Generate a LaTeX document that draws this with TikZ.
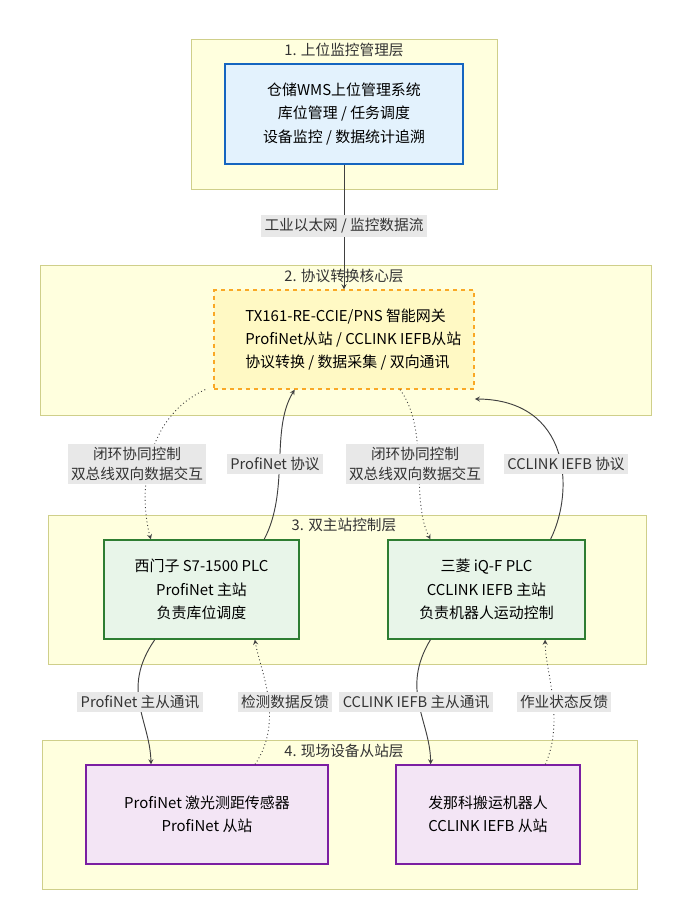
\documentclass[tikz,border=0pt]{standalone}
\usepackage{fontspec}
\setmainfont{Noto Sans CJK SC}
\usepackage{tikz}

\definecolor{layerfill}{HTML}{FFFFDE}
\definecolor{layerdraw}{HTML}{CFCF8A}
\definecolor{lblfill}{HTML}{E8E8E8}
\definecolor{wmsdraw}{HTML}{1565C0}
\definecolor{wmsfill}{HTML}{E3F2FD}
\definecolor{gwdraw}{HTML}{F9A825}
\definecolor{gwfill}{HTML}{FFF9C4}
\definecolor{plcdraw}{HTML}{2E7D32}
\definecolor{plcfill}{HTML}{E8F5E9}
\definecolor{devdraw}{HTML}{7B1FA2}
\definecolor{devfill}{HTML}{F3E5F5}

\tikzset{
	layer/.style={draw=layerdraw, fill=layerfill, line width=0.6pt},
	layertitle/.style={font=\fontsize{11}{12}\selectfont, text=black!80},
	box/.style={line width=1.2pt, align=center, font=\fontsize{11.2}{17.5}\selectfont, inner sep=0pt},
	lbl/.style={fill=lblfill, align=center, font=\fontsize{11}{15}\selectfont, inner sep=2.5pt, text=black!80},
	flow/.style={->, >=stealth, line width=0.7pt, black!75},
	back/.style={->, >=stealth, line width=0.7pt, black!75, dotted}
}

\begin{document}
\begin{tikzpicture}[x=0.75pt, y=-0.75pt]
	
	\useasboundingbox[fill=white] (0,0) rectangle (691,907);
	
	% layers
	\draw[layer] (191,39) rectangle (497,189);
	\draw[layer] (40,265) rectangle (651,415);
	\draw[layer] (48,515) rectangle (646,664);
	\draw[layer] (42,740) rectangle (637,889);
	\node[layertitle] (t1) at (344,50) {1. 上位监控管理层};
	\node[layertitle] (t2) at (344,276) {2. 协议转换核心层};
	\node[layertitle] (t3) at (344,525) {3. 双主站控制层};
	\node[layertitle] (t4) at (344,751) {4. 现场设备从站层};
	
	% nodes
	\node[box, draw=wmsdraw, fill=wmsfill, minimum width=178.5pt, minimum height=75pt] (wms) at (344,114)
		{仓储WMS上位管理系统\\库位管理 / 任务调度\\设备监控 / 数据统计追溯};
	\node[box, draw=gwdraw, fill=gwfill, dashed, minimum width=195pt, minimum height=74pt] (gw) at (344,339.5) {};
	\begin{scope}
		\clip (gw.south west) rectangle ([xshift=-3pt]gw.north east);
		\node[align=left, font=\fontsize{11.2}{17.5}\selectfont, anchor=west, inner sep=0pt] (gwtxt) at (245,339.5)
			{TX161-RE-CCIE/PNS 智能网关\\ProfiNet从站 / CCLINK IEFB从站\\协议转换 / 数据采集 / 双向通讯};
	\end{scope}
	\node[box, draw=plcdraw, fill=plcfill, minimum width=146pt, minimum height=74pt] (s7) at (201.5,589.5)
		{西门子 S7-1500 PLC\\ProfiNet 主站\\负责库位调度};
	\node[box, draw=plcdraw, fill=plcfill, minimum width=148pt, minimum height=74pt] (iqf) at (486.5,589.5)
		{三菱 iQ-F PLC\\CCLINK IEFB 主站\\负责机器人运动控制};
	\node[box, draw=devdraw, fill=devfill, minimum width=181.5pt, minimum height=74pt] (laser) at (207,814.5)
		{ProfiNet 激光测距传感器\\ProfiNet 从站};
	\node[box, draw=devdraw, fill=devfill, minimum width=138pt, minimum height=74pt] (robot) at (488,814.5)
		{发那科搬运机器人\\CCLINK IEFB 从站};
	
	% connectors
	\draw[flow] (wms.south) -- (gw.north);
	\draw[back] ([xshift=-6pt]gw.south west) .. controls (140,420) and (140,500) .. ([xshift=-38pt]s7.north);
	\draw[flow] ([xshift=47pt]s7.north) .. controls (290,490) and (270,430) .. ([xshift=-37pt]gw.south);
	\draw[back] ([xshift=42pt]gw.south) .. controls (430,430) and (410,500) .. ([xshift=-42pt]iqf.north);
	\draw[flow] ([xshift=48pt]iqf.north) .. controls (575,490) and (570,400) .. ([yshift=-7pt]gw.south east);
	\draw[flow] ([xshift=-35pt]s7.south) .. controls (120,690) and (150,720) .. ([xshift=-42pt]laser.north);
	\draw[back] ([xshift=36pt]laser.north) .. controls (285,720) and (260,670) .. ([xshift=40pt]s7.south);
	\draw[flow] ([xshift=-42pt]iqf.south) .. controls (400,690) and (430,720) .. ([xshift=-43pt]robot.north);
	\draw[back] ([xshift=43pt]robot.north) .. controls (565,720) and (545,670) .. ([xshift=44pt]iqf.south);
	
	% labels
	\node[lbl] (l1) at (344,226) {工业以太网 / 监控数据流};
	\node[lbl] (l2) at (137,464) {闭环协同控制\\双总线双向数据交互};
	\node[lbl] (l3) at (275,464) {ProfiNet 协议};
	\node[lbl] (l4) at (415,464) {闭环协同控制\\双总线双向数据交互};
	\node[lbl] (l5) at (566,464) {CCLINK IEFB 协议};
	\node[lbl] (l6) at (140,702) {ProfiNet 主从通讯};
	\node[lbl] (l7) at (285,702) {检测数据反馈};
	\node[lbl] (l8) at (416,702) {CCLINK IEFB 主从通讯};
	\node[lbl] (l9) at (564,702) {作业状态反馈};
	
\end{tikzpicture}
\end{document}
